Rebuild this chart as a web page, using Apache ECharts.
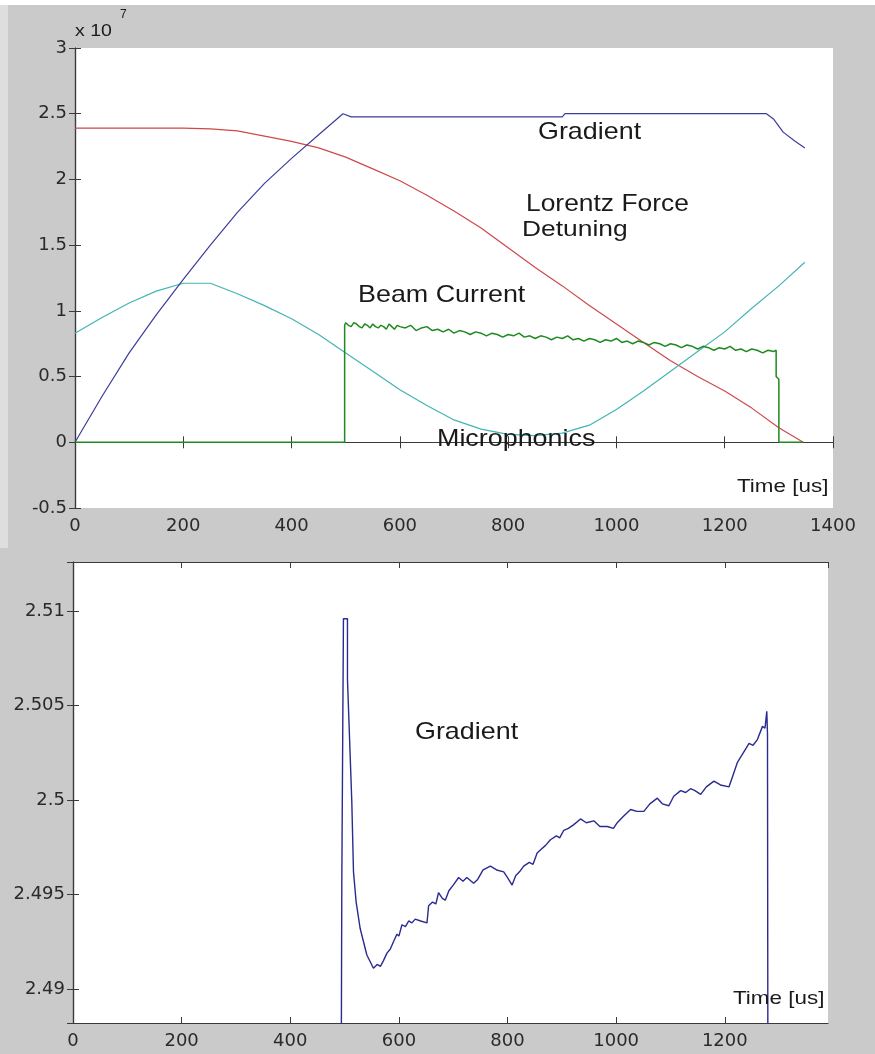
<!DOCTYPE html>
<html>
<head>
<meta charset="utf-8">
<script src="https://cdn.jsdelivr.net/npm/echarts@6/dist/echarts.min.js"></script>
<style>
  html, body { margin: 0; padding: 0; background: #cacaca; }
  #chart { width: 875px; height: 1054px; }
</style>
</head>
<body>
<div id="chart"></div>
<script>
// top plot, values in units of 1e7, time in us
var gradientTop = [[0,0],[50,0.35],[100,0.68],[150,0.97],[200,1.24],[250,1.50],[300,1.75],[350,1.97],[400,2.16],[450,2.34],[495,2.50],[510,2.476],[900,2.476],[905,2.50],[1277,2.50],[1290,2.46],[1308,2.36],[1330,2.29],[1348,2.24]];
var lorentzTop = [[0,2.39],[100,2.39],[200,2.39],[250,2.385],[300,2.37],[350,2.33],[400,2.29],[450,2.24],[500,2.17],[550,2.08],[600,1.99],[650,1.88],[700,1.76],[750,1.63],[800,1.48],[850,1.33],[900,1.19],[950,1.04],[1000,0.90],[1050,0.76],[1100,0.62],[1150,0.50],[1200,0.39],[1250,0.26],[1300,0.11],[1345,0]];
var microTop = [[0,0.83],[50,0.95],[100,1.06],[150,1.15],[200,1.21],[250,1.21],[300,1.13],[350,1.04],[400,0.94],[450,0.82],[500,0.68],[550,0.54],[600,0.40],[650,0.28],[700,0.17],[750,0.10],[800,0.06],[850,0.05],[900,0.07],[950,0.13],[1000,0.25],[1050,0.39],[1100,0.54],[1150,0.69],[1200,0.84],[1250,1.02],[1300,1.19],[1348,1.37]];
var beamTop = [[0,0],[498,0],[498,0.89],
  [500,0.91],[505,0.89],[510,0.88],[515,0.91],[520,0.90],[525,0.88],[530,0.87],[535,0.90],[540,0.89],[545,0.87],[550,0.90],[555,0.88],[560,0.87],[565,0.89],[570,0.88],[575,0.86],[580,0.90],[585,0.88],[590,0.86],[595,0.89],
  [600,0.88],[610,0.87],[620,0.89],[630,0.85],[640,0.87],[650,0.88],[660,0.85],[670,0.86],[680,0.84],[690,0.86],
  [700,0.83],[710,0.85],[720,0.84],[730,0.82],[740,0.84],[750,0.83],[760,0.81],[770,0.83],[780,0.82],[790,0.80],
  [800,0.82],[810,0.81],[820,0.83],[830,0.80],[840,0.81],[850,0.79],[860,0.81],[870,0.80],[880,0.78],[890,0.80],
  [900,0.79],[910,0.81],[920,0.78],[930,0.79],[940,0.77],[950,0.79],[960,0.78],[970,0.76],[980,0.78],[990,0.77],
  [1000,0.79],[1010,0.76],[1020,0.77],[1030,0.75],[1040,0.77],[1050,0.76],[1060,0.74],[1070,0.76],[1080,0.75],[1090,0.73],
  [1100,0.75],[1110,0.74],[1120,0.72],[1130,0.74],[1140,0.73],[1150,0.71],[1160,0.73],[1170,0.72],[1180,0.70],[1190,0.72],
  [1200,0.71],[1210,0.73],[1220,0.70],[1230,0.71],[1240,0.69],[1250,0.71],[1260,0.70],[1270,0.68],[1280,0.70],[1290,0.69],
  [1295,0.70],[1295,0.50],[1300,0.48],[1300,0],[1345,0]];

// bottom plot: gradient zoomed in
var gradientBottom = [[490,2.45],[494.9,2.4956],[497.9,2.4956],[497.9,2.5096],[505.3,2.5096],[505.3,2.5064],[513.3,2.4999],[516.4,2.4962],[521.3,2.4946],[528.7,2.4932],[541,2.4918],[553.2,2.4911],[560,2.4913],[566,2.4912],[571.6,2.4915],[578,2.4919],[584,2.4921],[590,2.4925],[596.3,2.4929],[600,2.4928],[605.6,2.4934],[612,2.4933],[618,2.4936],[624,2.4935],[630,2.4937],[640,2.4936],[651.7,2.4935],[654.7,2.4944],[662,2.4946],[668,2.4945],[673,2.4951],[680,2.4948],[685.4,2.4947],[692,2.4952],[700,2.4955],[710,2.4959],[718,2.4957],[725,2.4959],[737.6,2.4956],[745,2.4958],[755,2.4963],[768.4,2.4965],[780,2.4963],[793,2.4962],[800,2.4959],[808.4,2.4955],[815,2.4960],[822,2.4962],[829.8,2.4965],[840,2.4967],[847,2.4966],[854.5,2.4972],[862,2.4974],[870,2.4976],[879,2.4979],[890,2.4981],[896,2.4980],[903.6,2.4984],[912,2.4985],[922,2.4987],[934.4,2.4990],[945,2.4988],[958.9,2.4989],[970,2.4986],[983.6,2.4986],[995,2.4985],[1002,2.4988],[1012,2.4991],[1026.6,2.4995],[1038,2.4994],[1051,2.4994],[1062,2.4998],[1075.8,2.5001],[1085,2.4998],[1097,2.4997],[1106,2.5002],[1118.7,2.5005],[1128,2.5004],[1137,2.5006],[1145,2.5005],[1155.6,2.5003],[1166,2.5007],[1180,2.5010],[1192,2.5008],[1207.8,2.5007],[1215,2.5013],[1223.3,2.5020],[1232,2.5024],[1244.7,2.5030],[1252,2.5029],[1260,2.5032],[1269.4,2.5039],[1274,2.5038],[1277.3,2.5047],[1278.6,2.5035],[1281.6,2.5035],[1283,2.40]];

var axisColor = '#3a3a3a';
var labelFont = { color: '#2a2a2a', fontFamily: 'DejaVu Sans', fontSize: 18 };

function plain(v) { return String(Math.round(v * 10000) / 10000); }

function xAx(grid, pos, max, labels) {
    return {
        type: 'value', gridIndex: grid, position: pos, min: 0, max: max, interval: 200,
        axisLine: { show: true, lineStyle: { color: axisColor, width: 1.2 } },
        axisTick: { show: true, inside: true, length: 6, lineStyle: { color: axisColor } },
        axisLabel: Object.assign({ show: labels, margin: 9, showMaxLabel: max === 1400, formatter: plain }, labelFont),
        splitLine: { show: false }
    };
}
function yAx(grid, pos, min, max, interval, labels) {
    var a = {
        type: 'value', gridIndex: grid, position: pos, min: min, max: max,
        axisLine: { show: true, lineStyle: { color: axisColor, width: 1.2 } },
        axisTick: { show: true, inside: true, length: 6, lineStyle: { color: axisColor } },
        axisLabel: Object.assign({ show: labels, margin: 8, formatter: plain }, labelFont),
        splitLine: { show: false }
    };
    if (interval) { a.interval = interval; } else { a.splitNumber = 5; a.axisLabel.showMinLabel = false; a.axisLabel.showMaxLabel = false; }
    return a;
}
function txt(x, y, s, size, sx) {
    return {
        type: 'text', x: x, y: y, scaleX: sx || 1, z: 100,
        style: { text: s, fill: '#1a1a1a', fontFamily: 'Liberation Sans', fontSize: size, verticalAlign: 'middle', align: 'left' }
    };
}

var myChart = echarts.init(document.getElementById('chart'));
var option = {
    backgroundColor: '#cacaca',
    animation: false,
    grid: [
        { left: 75, top: 48, width: 758, height: 460, show: true, backgroundColor: '#ffffff', borderWidth: 0 },
        { left: 73, top: 562, width: 755, height: 461, show: true, backgroundColor: '#ffffff', borderWidth: 0 }
    ],
    xAxis: [
        xAx(0, 'bottom', 1400, true),
        xAx(0, 'top', 1400, false),
        xAx(1, 'bottom', 1390, true),
        xAx(1, 'top', 1390, false)
    ],
    yAxis: [
        yAx(0, 'left', -0.5, 3, 0.5, true),
        yAx(0, 'right', -0.5, 3, 0.5, false),
        yAx(1, 'left', 2.4882, 2.5126, null, true),
        yAx(1, 'right', 2.4882, 2.5126, null, false)
    ],
    series: [
        { name: 'Lorentz Force Detuning', type: 'line', xAxisIndex: 0, yAxisIndex: 0, data: lorentzTop, showSymbol: false, lineStyle: { color: '#d04848', width: 1.2 } },
        { name: 'Microphonics', type: 'line', xAxisIndex: 0, yAxisIndex: 0, data: microTop, showSymbol: false, lineStyle: { color: '#44b4b4', width: 1.2 } },
        { name: 'Beam Current', type: 'line', xAxisIndex: 0, yAxisIndex: 0, data: beamTop, showSymbol: false, lineStyle: { color: '#1f8a1f', width: 1.5 } },
        { name: 'Gradient', type: 'line', xAxisIndex: 0, yAxisIndex: 0, data: gradientTop, showSymbol: false, lineStyle: { color: '#3c3c9c', width: 1.2 } },
        { name: 'Gradient zoom', type: 'line', xAxisIndex: 2, yAxisIndex: 2, data: gradientBottom, showSymbol: false, clip: true, lineStyle: { color: '#2a2a90', width: 1.4 } }
    ],
    graphic: [
        { type: 'rect', shape: { x: 0, y: 0, width: 875, height: 5 }, style: { fill: '#ffffff' } },
        { type: 'rect', shape: { x: 0, y: 5, width: 8, height: 543 }, style: { fill: '#dedede' } },
        txt(75, 31, 'x 10', 17, 1.15),
        txt(120, 15, '7', 12, 1),
        txt(538, 132, 'Gradient', 24, 1.12),
        txt(526, 204, 'Lorentz Force', 24, 1.1),
        txt(522, 230, 'Detuning', 22, 1.2),
        txt(358, 295, 'Beam Current', 24, 1.12),
        txt(437, 439, 'Microphonics', 24, 1.12),
        txt(737, 487, 'Time [us]', 19, 1.18),
        txt(415, 732, 'Gradient', 24, 1.12),
        txt(733, 999, 'Time [us]', 19, 1.18)
    ]
};
myChart.setOption(option);
</script>
</body>
</html>
